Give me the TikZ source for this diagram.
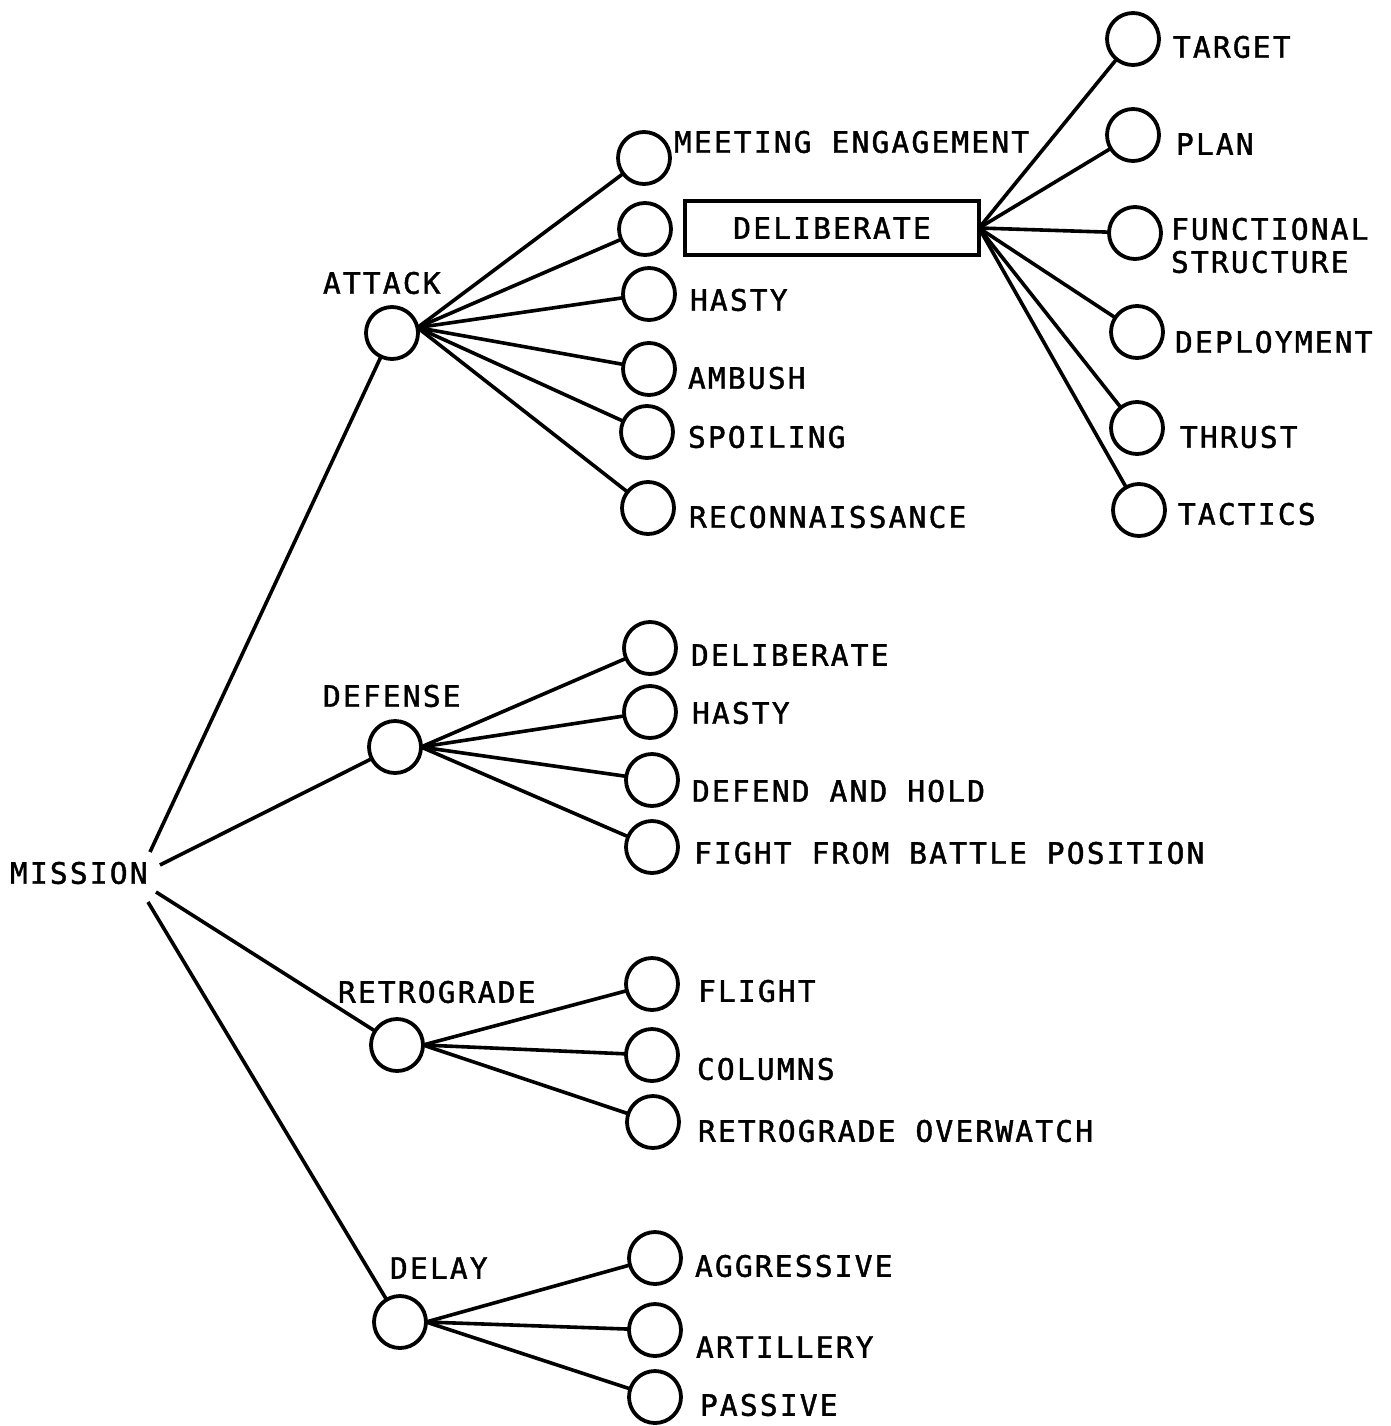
\documentclass[tikz,border=0pt]{standalone}
\usepackage{fontspec}
\newfontfamily\plotfont{DejaVu Sans Mono}[LetterSpace=7.5,FakeBold=1.5]
\begin{document}
\begin{tikzpicture}[x=1pt,y=-1pt,
  every node/.style={inner sep=0pt, outer sep=0pt},
  leaf/.style={circle, draw, line width=3.8pt, minimum size=52pt},
  lbl/.style={anchor=west, align=left, font=\plotfont\fontsize{29.5}{33}\selectfont},
  boxed/.style={draw, line width=3.6pt, minimum width=294pt, minimum height=54pt,
    font=\plotfont\fontsize{29.5}{33}\selectfont},
  link/.style={line width=3.6pt}
]
\useasboundingbox (0,0) rectangle (1390,1426);

% root
\node[lbl] (mission) at (10,873) {MISSION};
\coordinate (m1) at (150,852);
\coordinate (m2) at (160,865);
\coordinate (m3) at (156,892);
\coordinate (m4) at (148,902);

% second level
\node[leaf] (attack) at (392,333) {};
\node[leaf] (defense) at (395,747) {};
\node[leaf] (retro) at (397,1045) {};
\node[leaf] (delay) at (400,1322) {};
\node[lbl] (attackL) at (323,283) {ATTACK};
\node[lbl] (defenseL) at (323,696) {DEFENSE};
\node[lbl] (retroL) at (338,992) {RETROGRADE};
\node[lbl] (delayL) at (390,1268) {DELAY};

% attack branch
\node[leaf] (a1) at (644,158) {};
\node[leaf] (a2) at (645,229) {};
\node[leaf] (a3) at (649,294) {};
\node[leaf] (a4) at (649,369) {};
\node[leaf] (a5) at (647,432) {};
\node[leaf] (a6) at (648,508) {};
\node[lbl] (a1L) at (674,142) {MEETING ENGAGEMENT};
\node[boxed] (delib) at (832,228) {DELIBERATE};
\node[lbl] (a3L) at (690,300) {HASTY};
\node[lbl] (a4L) at (688,378) {AMBUSH};
\node[lbl] (a5L) at (688,437) {SPOILING};
\node[lbl] (a6L) at (689,517) {RECONNAISSANCE};

% deliberate attack factors
\node[leaf] (t1) at (1133,39) {};
\node[leaf] (t2) at (1133,135) {};
\node[leaf] (t3) at (1135,233) {};
\node[leaf] (t4) at (1137,332) {};
\node[leaf] (t5) at (1137,428) {};
\node[leaf] (t6) at (1139,510) {};
\node[lbl] (t1L) at (1173,47) {TARGET};
\node[lbl] (t2L) at (1176,144) {PLAN};
\node[lbl] (t3L) at (1171,245.5) {FUNCTIONAL\\STRUCTURE};
\node[lbl] (t4L) at (1175,342) {DEPLOYMENT};
\node[lbl] (t5L) at (1180,437) {THRUST};
\node[lbl] (t6L) at (1178,514) {TACTICS};

% defense branch
\node[leaf] (f1) at (650,648) {};
\node[leaf] (f2) at (650,712) {};
\node[leaf] (f3) at (652,780) {};
\node[leaf] (f4) at (652,847) {};
\node[lbl] (f1L) at (691,655) {DELIBERATE};
\node[lbl] (f2L) at (692,713) {HASTY};
\node[lbl] (f3L) at (692,791) {DEFEND AND HOLD};
\node[lbl] (f4L) at (694,853) {FIGHT FROM BATTLE POSITION};

% retrograde branch
\node[leaf] (r1) at (652,984) {};
\node[leaf] (r2) at (652,1055) {};
\node[leaf] (r3) at (653,1122) {};
\node[lbl] (r1L) at (698,991) {FLIGHT};
\node[lbl] (r2L) at (697,1069) {COLUMNS};
\node[lbl] (r3L) at (698,1131) {RETROGRADE OVERWATCH};

% delay branch
\node[leaf] (y1) at (655,1258) {};
\node[leaf] (y2) at (655,1330) {};
\node[leaf] (y3) at (655,1397) {};
\node[lbl] (y1L) at (695,1266) {AGGRESSIVE};
\node[lbl] (y2L) at (696,1347) {ARTILLERY};
\node[lbl] (y3L) at (700,1405) {PASSIVE};

% connectors
\draw[link] (m1) -- (attack);
\draw[link] (m2) -- (defense);
\draw[link] (m3) -- (retro);
\draw[link] (m4) -- (delay);

\foreach \c in {a1,a2,a3,a4,a5,a6} \draw[link] (attack.12) -- (\c);
\foreach \c in {t1,t2,t3,t4,t5,t6} \draw[link] (delib.east) -- (\c);
\foreach \c in {f1,f2,f3,f4} \draw[link] (defense.east) -- (\c);
\foreach \c in {r1,r2,r3} \draw[link] (retro.east) -- (\c);
\foreach \c in {y1,y2,y3} \draw[link] (delay.east) -- (\c);
\end{tikzpicture}
\end{document}
